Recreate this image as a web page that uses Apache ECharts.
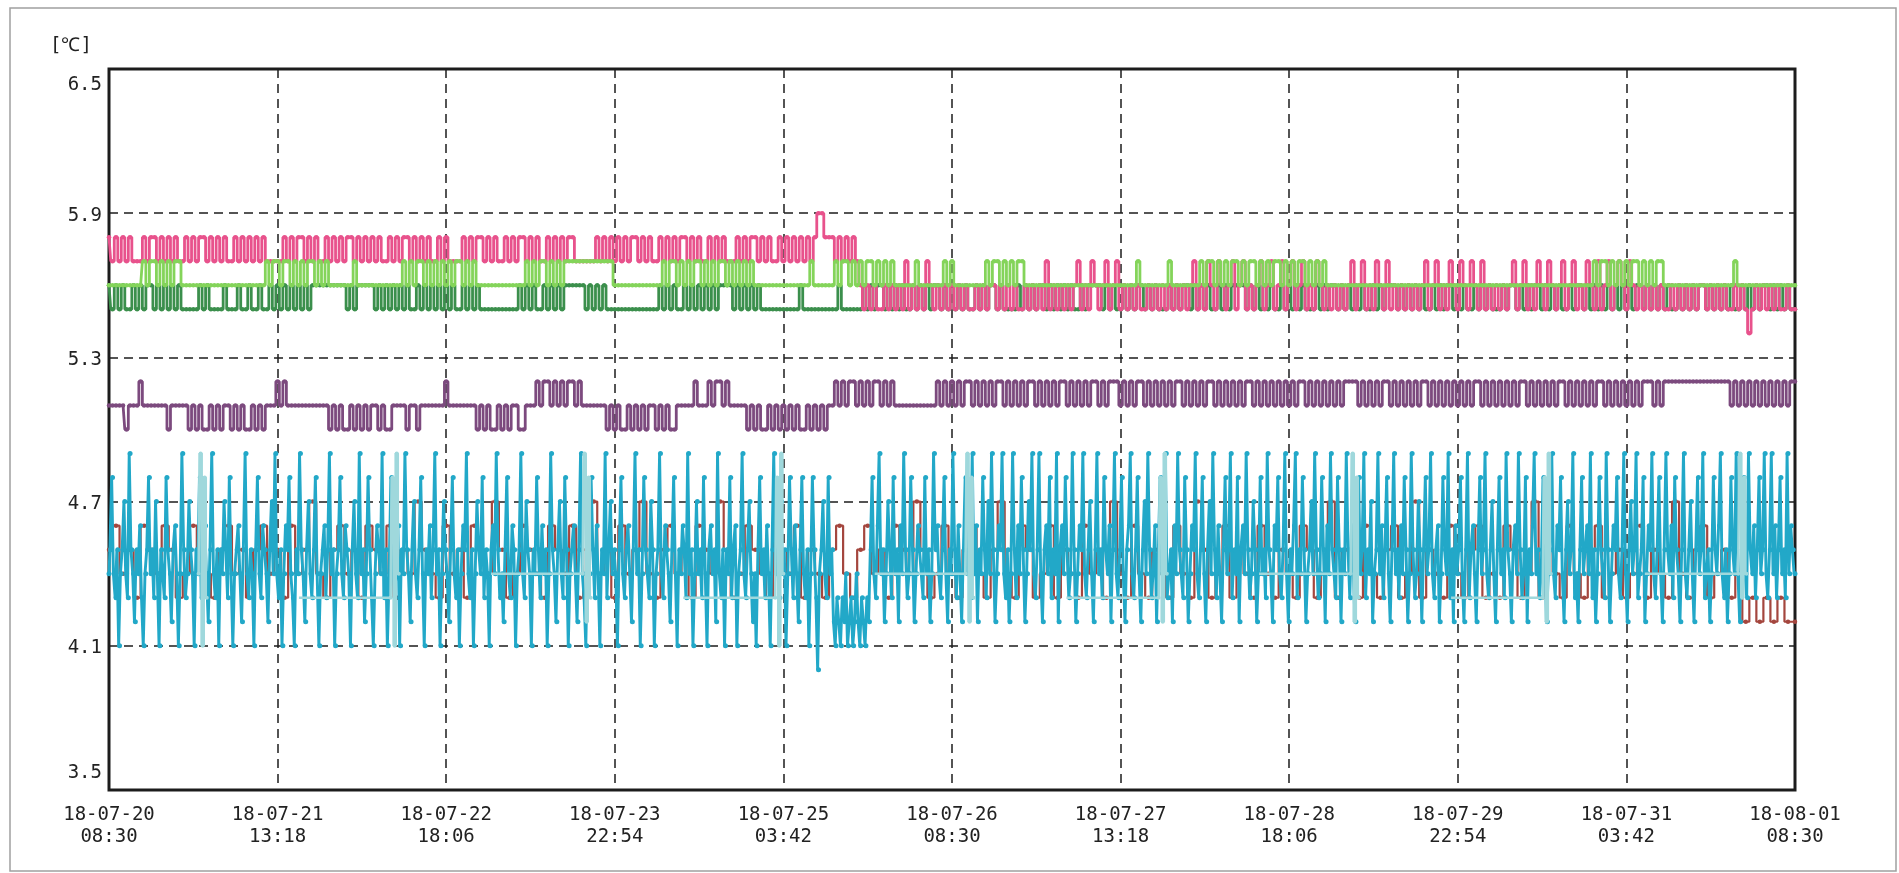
<!DOCTYPE html>
<html>
<head>
<meta charset="utf-8">
<script src="https://cdn.jsdelivr.net/npm/echarts@6/dist/echarts.min.js"></script>
<style>html,body{margin:0;padding:0;background:#fff;}#c{width:1899px;height:873px;}</style>
</head>
<body>
<div id="c"></div>
<script>
// time axis: hours from 18-07-20 08:30, one tick every 28.8 h
const xLabels = ['18-07-20\n08:30','18-07-21\n13:18','18-07-22\n18:06','18-07-23\n22:54','18-07-25\n03:42','18-07-26\n08:30','18-07-27\n13:18','18-07-28\n18:06','18-07-29\n22:54','18-07-31\n03:42','18-08-01\n08:30'];
const yLabels = ['3.5','4.1','4.7','5.3','5.9','6.5'];
const STEP_CYAN = 0.3; // hours between samples (cyan sensor)
const STEP_FINE = 0.6; // hours between samples (upper sensors)
const STEP = 1.2;      // hours between samples (brown sensor)

const pink = [
5.8,5.7,5.8,5.7,5.8,5.7,5.8,5.7, 5.7,5.7,5.8,5.7,5.8,5.8,5.7,5.8, 5.7,5.8,5.7,5.8,5.7,5.7,5.8,5.7, 5.8,5.7,5.8,5.8,5.7,5.8,5.7,5.8, 5.7,5.8,5.7,5.7,5.8,5.7,5.8,5.7, 5.8,5.7,5.8,5.7,5.8,5.7,5.7,5.7,
5.7,5.7,5.8,5.7,5.8,5.7,5.8,5.8, 5.7,5.8,5.7,5.8,5.7,5.7,5.8,5.7, 5.8,5.7,5.8,5.7,5.8,5.8,5.7,5.8, 5.7,5.8,5.7,5.8,5.7,5.8,5.7,5.7, 5.8,5.7,5.8,5.7,5.8,5.8,5.7,5.8, 5.7,5.8,5.7,5.8,5.7,5.7,5.8,5.7,
5.8,5.7,5.7,5.7,5.7,5.8,5.7,5.8, 5.7,5.8,5.8,5.7,5.8,5.7,5.8,5.7, 5.7,5.8,5.7,5.8,5.7,5.8,5.8,5.7, 5.8,5.7,5.8,5.7,5.7,5.8,5.7,5.8, 5.7,5.8,5.7,5.8,5.8,5.7,5.7,5.7, 5.7,5.7,5.7,5.8,5.7,5.8,5.7,5.8,
5.7,5.8,5.7,5.8,5.7,5.8,5.8,5.7, 5.8,5.7,5.8,5.7,5.7,5.8,5.7,5.8, 5.7,5.8,5.7,5.8,5.8,5.7,5.8,5.7, 5.8,5.7,5.7,5.8,5.7,5.8,5.7,5.8, 5.7,5.7,5.7,5.8,5.7,5.8,5.7,5.8, 5.8,5.7,5.8,5.7,5.8,5.7,5.7,5.8,
5.7,5.8,5.7,5.8,5.7,5.8,5.7,5.8, 5.7,5.8,5.9,5.9,5.8,5.8,5.8,5.7, 5.8,5.7,5.8,5.7,5.8,5.7,5.6,5.5, 5.6,5.5,5.6,5.5,5.5,5.6,5.5,5.6, 5.5,5.6,5.5,5.7,5.5,5.6,5.5,5.6, 5.5,5.7,5.6,5.5,5.6,5.5,5.6,5.5,
5.6,5.5,5.6,5.5,5.6,5.5,5.5,5.6, 5.5,5.6,5.5,5.6,5.6,5.5,5.6,5.5, 5.6,5.5,5.6,5.5,5.5,5.6,5.5,5.6, 5.5,5.6,5.5,5.7,5.5,5.6,5.5,5.6, 5.5,5.6,5.5,5.6,5.7,5.5,5.6,5.5, 5.7,5.6,5.5,5.6,5.7,5.5,5.6,5.7,
5.5,5.6,5.5,5.6,5.5,5.6,5.5,5.5, 5.6,5.5,5.6,5.5,5.6,5.5,5.6,5.5, 5.6,5.5,5.6,5.5,5.6,5.7,5.5,5.6, 5.5,5.7,5.6,5.5,5.7,5.6,5.5,5.6, 5.7,5.5,5.6,5.7,5.5,5.6,5.5,5.6, 5.7,5.5,5.6,5.7,5.5,5.6,5.7,5.5,
5.6,5.7,5.5,5.6,5.7,5.5,5.6,5.5, 5.7,5.6,5.5,5.6,5.5,5.6,5.5,5.6, 5.5,5.6,5.7,5.5,5.6,5.7,5.5,5.6, 5.5,5.7,5.6,5.5,5.7,5.5,5.6,5.5, 5.6,5.5,5.6,5.5,5.6,5.5,5.6,5.7, 5.5,5.6,5.7,5.5,5.6,5.5,5.7,5.6,
5.5,5.7,5.6,5.5,5.7,5.6,5.5,5.7, 5.5,5.6,5.5,5.6,5.5,5.6,5.5,5.6, 5.7,5.5,5.6,5.7,5.5,5.6,5.5,5.7, 5.6,5.5,5.7,5.6,5.5,5.6,5.7,5.5, 5.6,5.7,5.5,5.6,5.5,5.7,5.6,5.5, 5.7,5.5,5.6,5.7,5.5,5.6,5.7,5.6,
5.5,5.7,5.6,5.5,5.6,5.5,5.6,5.5, 5.6,5.5,5.6,5.5,5.5,5.6,5.5,5.6, 5.5,5.6,5.5,5.6,5.5,5.6,5.6,5.5, 5.6,5.5,5.6,5.5,5.6,5.5,5.5,5.6, 5.5,5.6,5.5,5.4,5.5,5.6,5.5,5.6, 5.5,5.6,5.5,5.6,5.5,5.5,5.6,5.5,
5.5];

const lightGreen = [
5.6,5.6,5.6,5.6,5.6,5.6,5.6,5.6, 5.6,5.6,5.7,5.6,5.7,5.7,5.6,5.7, 5.6,5.7,5.6,5.7,5.7,5.6,5.6,5.6, 5.6,5.6,5.6,5.6,5.6,5.6,5.6,5.6, 5.6,5.6,5.6,5.6,5.6,5.6,5.6,5.6, 5.6,5.6,5.6,5.6,5.6,5.7,5.6,5.7,
5.7,5.6,5.7,5.7,5.6,5.7,5.6,5.7, 5.6,5.7,5.7,5.6,5.7,5.6,5.7,5.6, 5.6,5.6,5.6,5.6,5.6,5.6,5.7,5.6, 5.6,5.6,5.6,5.6,5.6,5.6,5.6,5.6, 5.6,5.6,5.6,5.6,5.7,5.6,5.7,5.6, 5.7,5.7,5.6,5.7,5.6,5.7,5.6,5.7,
5.6,5.7,5.6,5.7,5.7,5.6,5.7,5.6, 5.7,5.6,5.6,5.6,5.6,5.6,5.6,5.6, 5.6,5.6,5.6,5.6,5.6,5.6,5.6,5.7, 5.6,5.7,5.6,5.7,5.7,5.6,5.7,5.6, 5.7,5.6,5.7,5.7,5.7,5.7,5.7,5.7, 5.7,5.7,5.7,5.7,5.7,5.7,5.7,5.7,
5.6,5.6,5.6,5.6,5.6,5.6,5.6,5.6, 5.6,5.6,5.6,5.6,5.6,5.6,5.7,5.6, 5.7,5.7,5.6,5.7,5.6,5.7,5.6,5.7, 5.7,5.6,5.7,5.6,5.7,5.6,5.7,5.7, 5.6,5.7,5.6,5.7,5.6,5.7,5.6,5.7, 5.6,5.6,5.6,5.6,5.6,5.6,5.6,5.6,
5.6,5.6,5.6,5.6,5.6,5.6,5.6,5.6, 5.7,5.6,5.6,5.6,5.6,5.6,5.6,5.7, 5.6,5.7,5.7,5.6,5.7,5.6,5.7,5.6, 5.7,5.7,5.6,5.7,5.6,5.7,5.6,5.7, 5.6,5.6,5.6,5.6,5.6,5.6,5.7,5.6, 5.6,5.6,5.6,5.6,5.6,5.6,5.7,5.6,
5.7,5.6,5.6,5.6,5.6,5.6,5.6,5.6, 5.6,5.6,5.7,5.6,5.7,5.7,5.6,5.7, 5.6,5.7,5.6,5.7,5.7,5.6,5.6,5.6, 5.6,5.6,5.6,5.6,5.6,5.6,5.6,5.6, 5.6,5.6,5.6,5.6,5.6,5.6,5.6,5.6, 5.6,5.6,5.6,5.6,5.6,5.6,5.6,5.6,
5.6,5.6,5.6,5.6,5.6,5.7,5.6,5.6, 5.6,5.6,5.6,5.6,5.6,5.6,5.7,5.6, 5.6,5.6,5.6,5.6,5.6,5.6,5.6,5.7, 5.6,5.7,5.7,5.6,5.7,5.6,5.7,5.6, 5.7,5.7,5.6,5.7,5.6,5.7,5.7,5.6, 5.7,5.6,5.7,5.6,5.7,5.7,5.6,5.7,
5.6,5.7,5.6,5.7,5.7,5.6,5.7,5.6, 5.7,5.6,5.7,5.6,5.6,5.6,5.6,5.6, 5.6,5.6,5.6,5.6,5.6,5.6,5.6,5.6, 5.6,5.6,5.6,5.6,5.6,5.6,5.6,5.6, 5.6,5.6,5.6,5.6,5.6,5.6,5.6,5.6, 5.6,5.6,5.6,5.6,5.6,5.6,5.6,5.6,
5.6,5.6,5.6,5.6,5.6,5.6,5.6,5.6, 5.6,5.6,5.6,5.6,5.6,5.6,5.6,5.6, 5.6,5.6,5.6,5.6,5.6,5.6,5.6,5.6, 5.6,5.6,5.6,5.6,5.6,5.6,5.6,5.6, 5.6,5.6,5.6,5.6,5.6,5.6,5.6,5.7, 5.6,5.7,5.7,5.6,5.7,5.6,5.7,5.6,
5.7,5.6,5.7,5.7,5.6,5.7,5.6,5.7, 5.6,5.7,5.7,5.6,5.6,5.6,5.6,5.6, 5.6,5.6,5.6,5.6,5.6,5.6,5.6,5.6, 5.6,5.6,5.6,5.6,5.6,5.6,5.6,5.7, 5.6,5.6,5.6,5.6,5.6,5.6,5.6,5.6, 5.6,5.6,5.6,5.6,5.6,5.6,5.6,5.6,
5.6];

const darkGreen = [
5.6,5.5,5.6,5.5,5.6,5.5,5.5,5.6, 5.5,5.6,5.5,5.6,5.6,5.5,5.6,5.5, 5.6,5.5,5.6,5.5,5.6,5.5,5.5,5.5, 5.5,5.5,5.6,5.5,5.6,5.5,5.5,5.5, 5.5,5.6,5.5,5.5,5.5,5.6,5.5,5.5, 5.6,5.5,5.5,5.6,5.5,5.5,5.6,5.5,
5.6,5.5,5.6,5.5,5.6,5.5,5.6,5.5, 5.6,5.5,5.6,5.6,5.6,5.6,5.6,5.6, 5.6,5.6,5.6,5.6,5.5,5.6,5.5,5.6, 5.6,5.6,5.6,5.6,5.5,5.6,5.5,5.6, 5.5,5.6,5.5,5.6,5.5,5.6,5.5,5.5, 5.6,5.5,5.6,5.5,5.6,5.5,5.6,5.5,
5.6,5.5,5.6,5.5,5.5,5.6,5.5,5.6, 5.5,5.6,5.5,5.5,5.5,5.5,5.5,5.5, 5.5,5.5,5.5,5.5,5.5,5.6,5.5,5.6, 5.5,5.6,5.5,5.5,5.6,5.5,5.6,5.5, 5.6,5.5,5.6,5.6,5.6,5.6,5.6,5.6, 5.5,5.6,5.5,5.6,5.5,5.6,5.5,5.5,
5.5,5.5,5.5,5.5,5.5,5.5,5.5,5.5, 5.5,5.5,5.5,5.5,5.5,5.6,5.5,5.6, 5.5,5.6,5.5,5.5,5.6,5.5,5.6,5.5, 5.6,5.5,5.6,5.5,5.6,5.5,5.6,5.6, 5.6,5.6,5.5,5.6,5.5,5.6,5.5,5.6, 5.5,5.6,5.5,5.5,5.5,5.5,5.5,5.5,
5.5,5.5,5.5,5.5,5.5,5.6,5.5,5.5, 5.5,5.5,5.5,5.5,5.5,5.5,5.5,5.5, 5.6,5.5,5.5,5.5,5.5,5.5,5.5,5.6, 5.5,5.6,5.5,5.6,5.6,5.5,5.6,5.5, 5.6,5.5,5.6,5.5,5.5,5.6,5.5,5.6, 5.5,5.6,5.5,5.6,5.6,5.5,5.6,5.5,
5.6,5.5,5.6,5.5,5.6,5.5,5.5,5.6, 5.5,5.6,5.5,5.6,5.6,5.5,5.6,5.5, 5.5,5.5,5.5,5.6,5.5,5.6,5.5,5.6, 5.5,5.6,5.6,5.5,5.6,5.5,5.6,5.5, 5.6,5.5,5.6,5.5,5.5,5.6,5.5,5.6, 5.6,5.6,5.6,5.5,5.6,5.5,5.6,5.5,
5.5,5.6,5.5,5.6,5.5,5.6,5.6,5.5, 5.6,5.5,5.6,5.5,5.5,5.5,5.6,5.5, 5.6,5.5,5.6,5.6,5.5,5.6,5.5,5.6, 5.5,5.6,5.5,5.5,5.6,5.5,5.6,5.5, 5.6,5.6,5.6,5.6,5.5,5.6,5.5,5.6, 5.5,5.6,5.5,5.6,5.5,5.5,5.6,5.5,
5.6,5.5,5.6,5.5,5.6,5.5,5.5,5.5, 5.6,5.5,5.6,5.5,5.6,5.6,5.5,5.6, 5.5,5.6,5.5,5.6,5.5,5.6,5.5,5.5, 5.6,5.5,5.6,5.5,5.6,5.6,5.6,5.5, 5.6,5.5,5.6,5.5,5.6,5.5,5.6,5.5, 5.5,5.6,5.5,5.6,5.5,5.6,5.6,5.5,
5.6,5.5,5.6,5.5,5.5,5.6,5.5,5.6, 5.5,5.6,5.5,5.5,5.5,5.6,5.5,5.6, 5.6,5.5,5.6,5.5,5.6,5.5,5.6,5.6, 5.5,5.6,5.5,5.6,5.5,5.6,5.5,5.5, 5.6,5.5,5.6,5.6,5.5,5.6,5.5,5.6, 5.5,5.6,5.5,5.6,5.5,5.6,5.5,5.6,
5.5,5.6,5.5,5.6,5.6,5.5,5.6,5.5, 5.6,5.5,5.6,5.5,5.6,5.5,5.5,5.6, 5.5,5.6,5.5,5.6,5.5,5.6,5.6,5.5, 5.6,5.5,5.6,5.5,5.6,5.5,5.6,5.5, 5.5,5.6,5.5,5.6,5.5,5.6,5.5,5.6, 5.6,5.5,5.6,5.5,5.6,5.5,5.6,5.5,
5.5];

const purple = [
5.1,5.1,5.1,5.1,5.1,5.0,5.1,5.1, 5.1,5.2,5.1,5.1,5.1,5.1,5.1,5.1, 5.1,5.0,5.1,5.1,5.1,5.1,5.1,5.0, 5.1,5.0,5.1,5.0,5.0,5.1,5.0,5.1, 5.0,5.1,5.1,5.0,5.1,5.0,5.1,5.0, 5.0,5.1,5.0,5.1,5.0,5.1,5.1,5.1,
5.2,5.1,5.2,5.1,5.1,5.1,5.1,5.1, 5.1,5.1,5.1,5.1,5.1,5.1,5.1,5.0, 5.1,5.0,5.1,5.0,5.0,5.1,5.0,5.1, 5.0,5.1,5.0,5.1,5.1,5.0,5.1,5.0, 5.0,5.1,5.1,5.1,5.1,5.0,5.1,5.1, 5.0,5.1,5.1,5.1,5.1,5.1,5.1,5.1,
5.2,5.1,5.1,5.1,5.1,5.1,5.1,5.1, 5.1,5.0,5.1,5.0,5.1,5.0,5.0,5.1, 5.0,5.1,5.0,5.1,5.1,5.0,5.0,5.1, 5.1,5.1,5.2,5.1,5.2,5.2,5.1,5.2, 5.1,5.2,5.1,5.2,5.2,5.1,5.2,5.1, 5.1,5.1,5.1,5.1,5.1,5.1,5.0,5.1,
5.0,5.1,5.0,5.0,5.1,5.0,5.1,5.0, 5.1,5.0,5.1,5.1,5.0,5.1,5.0,5.1, 5.0,5.0,5.1,5.1,5.1,5.1,5.1,5.2, 5.1,5.1,5.1,5.2,5.1,5.2,5.2,5.1, 5.2,5.1,5.1,5.1,5.1,5.1,5.0,5.1, 5.0,5.1,5.0,5.0,5.1,5.0,5.1,5.0,
5.1,5.0,5.1,5.0,5.1,5.0,5.0,5.1, 5.0,5.1,5.0,5.1,5.0,5.1,5.1,5.2, 5.1,5.2,5.1,5.2,5.2,5.1,5.2,5.1, 5.2,5.1,5.2,5.2,5.1,5.2,5.1,5.2, 5.1,5.1,5.1,5.1,5.1,5.1,5.1,5.1, 5.1,5.1,5.1,5.1,5.2,5.1,5.2,5.1,
5.2,5.1,5.2,5.1,5.2,5.2,5.1,5.2, 5.1,5.2,5.1,5.2,5.1,5.2,5.2,5.1, 5.2,5.1,5.2,5.1,5.2,5.1,5.2,5.2, 5.1,5.2,5.1,5.2,5.1,5.2,5.1,5.2, 5.2,5.1,5.2,5.1,5.2,5.1,5.2,5.1, 5.2,5.2,5.1,5.2,5.1,5.2,5.2,5.2,
5.1,5.2,5.1,5.2,5.1,5.2,5.2,5.1, 5.2,5.1,5.2,5.1,5.2,5.1,5.2,5.1, 5.2,5.2,5.1,5.2,5.1,5.2,5.1,5.2, 5.1,5.2,5.2,5.1,5.2,5.1,5.2,5.1, 5.2,5.1,5.2,5.1,5.2,5.2,5.1,5.2, 5.1,5.2,5.1,5.2,5.1,5.2,5.1,5.2,
5.1,5.2,5.1,5.2,5.2,5.1,5.2,5.1, 5.2,5.1,5.2,5.1,5.2,5.1,5.2,5.1, 5.2,5.2,5.2,5.2,5.1,5.2,5.1,5.2, 5.1,5.2,5.1,5.2,5.2,5.1,5.2,5.1, 5.2,5.1,5.2,5.1,5.2,5.1,5.2,5.2, 5.1,5.2,5.1,5.2,5.1,5.2,5.1,5.2,
5.1,5.2,5.1,5.2,5.1,5.2,5.2,5.1, 5.2,5.1,5.2,5.1,5.2,5.1,5.2,5.1, 5.2,5.1,5.2,5.2,5.1,5.2,5.1,5.2, 5.1,5.2,5.1,5.2,5.1,5.2,5.2,5.1, 5.2,5.1,5.2,5.1,5.2,5.1,5.2,5.1, 5.2,5.2,5.1,5.2,5.1,5.2,5.1,5.2,
5.1,5.2,5.1,5.2,5.1,5.2,5.2,5.2, 5.1,5.2,5.1,5.2,5.2,5.2,5.2,5.2, 5.2,5.2,5.2,5.2,5.2,5.2,5.2,5.2, 5.2,5.2,5.2,5.2,5.2,5.2,5.1,5.2, 5.1,5.2,5.1,5.2,5.1,5.2,5.1,5.2, 5.1,5.2,5.1,5.2,5.1,5.2,5.1,5.2,
5.2];

const cyan = [
4.4,4.5,4.8,4.4,4.3,4.5,4.1,4.4, 4.5,4.7,4.4,4.3,4.9,4.5,4.4,4.2,
4.5,4.4,4.6,4.3,4.1,4.4,4.5,4.8, 4.4,4.5,4.3,4.7,4.4,4.1,4.5,4.4,
4.3,4.8,4.5,4.4,4.2,4.5,4.6,4.4, 4.1,4.4,4.9,4.5,4.3,4.4,4.7,4.5,
4.4,4.1,4.5,4.4,4.8,4.3,4.5,4.6, 4.4,4.2,4.5,4.9,4.4,4.3,4.5,4.1,
4.5,4.4,4.7,4.5,4.3,4.8,4.4,4.1, 4.4,4.5,4.6,4.4,4.2,4.5,4.9,4.4,
4.3,4.5,4.4,4.1,4.5,4.8,4.4,4.3, 4.6,4.5,4.4,4.2,4.5,4.7,4.4,4.9,
4.4,4.3,4.5,4.1,4.4,4.6,4.5,4.8, 4.4,4.3,4.1,4.5,4.4,4.9,4.5,4.4,
4.2,4.5,4.7,4.4,4.3,4.5,4.8,4.4, 4.1,4.4,4.5,4.6,4.3,4.5,4.9,4.4,
4.5,4.1,4.4,4.5,4.8,4.4,4.3,4.6, 4.5,4.4,4.1,4.5,4.7,4.4,4.3,4.9,
4.4,4.5,4.2,4.4,4.8,4.5,4.3,4.1, 4.4,4.6,4.5,4.4,4.9,4.3,4.5,4.1,
4.4,4.8,4.5,4.3,4.4,4.6,4.1,4.5, 4.4,4.9,4.5,4.4,4.2,4.5,4.7,4.4,
4.3,4.5,4.8,4.4,4.1,4.5,4.4,4.6, 4.3,4.5,4.9,4.4,4.5,4.1,4.4,4.7,
4.5,4.4,4.2,4.5,4.8,4.4,4.3,4.5, 4.1,4.4,4.6,4.5,4.9,4.4,4.3,4.5,
4.1,4.4,4.7,4.5,4.4,4.8,4.3,4.5, 4.4,4.1,4.5,4.6,4.4,4.9,4.5,4.3,
4.4,4.2,4.5,4.8,4.4,4.3,4.6,4.5, 4.1,4.4,4.5,4.9,4.4,4.3,4.7,4.5,
4.4,4.1,4.5,4.4,4.8,4.5,4.3,4.6, 4.4,4.5,4.1,4.4,4.9,4.5,4.4,4.2,
4.5,4.7,4.4,4.3,4.8,4.5,4.1,4.4, 4.5,4.6,4.4,4.2,4.5,4.9,4.4,4.3,
4.1,4.5,4.4,4.8,4.5,4.3,4.6,4.4, 4.1,4.5,4.4,4.9,4.3,4.5,4.7,4.4,
4.5,4.4,4.1,4.5,4.8,4.4,4.3,4.5, 4.6,4.4,4.2,4.5,4.9,4.4,4.5,4.1,
4.4,4.8,4.5,4.4,4.3,4.7,4.5,4.1, 4.4,4.5,4.9,4.4,4.3,4.6,4.5,4.4,
4.2,4.5,4.8,4.4,4.1,4.5,4.4,4.6, 4.5,4.3,4.9,4.4,4.5,4.1,4.4,4.7,
4.4,4.5,4.3,4.8,4.4,4.1,4.5,4.6, 4.4,4.5,4.2,4.9,4.4,4.3,4.5,4.1,
4.5,4.4,4.8,4.3,4.5,4.6,4.1,4.4, 4.5,4.9,4.4,4.3,4.5,4.7,4.4,4.2,
4.4,4.1,4.5,4.8,4.4,4.5,4.3,4.6, 4.4,4.1,4.5,4.9,4.4,4.5,4.3,4.7,
4.4,4.5,4.1,4.4,4.8,4.5,4.3,4.6, 4.4,4.2,4.5,4.8,4.4,4.3,4.5,4.1,
4.4,4.8,4.5,4.3,4.0,4.4,4.5,4.7, 4.4,4.3,4.8,4.4,4.5,4.2,4.1,4.3,
4.2,4.1,4.3,4.2,4.4,4.1,4.2,4.3, 4.1,4.2,4.4,4.2,4.1,4.3,4.2,4.1,
4.3,4.2,4.5,4.8,4.4,4.3,4.6,4.9, 4.4,4.5,4.2,4.4,4.7,4.5,4.3,4.8,
4.4,4.5,4.2,4.6,4.4,4.9,4.5,4.3, 4.4,4.8,4.5,4.2,4.4,4.6,4.5,4.4,
4.3,4.8,4.4,4.5,4.2,4.4,4.9,4.5, 4.6,4.4,4.3,4.5,4.8,4.4,4.2,4.5,
4.4,4.9,4.5,4.3,4.6,4.4,4.2,4.5, 4.8,4.4,4.5,4.3,4.9,4.4,4.6,4.2,
4.5,4.4,4.8,4.5,4.3,4.7,4.4,4.9, 4.5,4.2,4.4,4.6,4.5,4.9,4.4,4.3,
4.5,4.2,4.4,4.9,4.5,4.3,4.6,4.4, 4.8,4.5,4.2,4.4,4.7,4.5,4.9,4.4,
4.3,4.5,4.9,4.4,4.2,4.5,4.6,4.4, 4.8,4.3,4.5,4.4,4.9,4.2,4.5,4.6,
4.4,4.8,4.5,4.3,4.4,4.9,4.5,4.2, 4.4,4.6,4.5,4.9,4.4,4.3,4.5,4.7,
4.4,4.2,4.5,4.9,4.4,4.5,4.3,4.8, 4.5,4.4,4.6,4.2,4.5,4.9,4.4,4.3,
4.5,4.8,4.4,4.2,4.5,4.6,4.9,4.4, 4.3,4.5,4.8,4.4,4.2,4.5,4.7,4.4,
4.9,4.5,4.3,4.4,4.6,4.2,4.5,4.8, 4.4,4.5,4.9,4.3,4.4,4.5,4.2,4.6,
4.4,4.9,4.5,4.4,4.3,4.8,4.5,4.2, 4.4,4.6,4.5,4.9,4.4,4.3,4.5,4.8,
4.4,4.2,4.5,4.7,4.4,4.9,4.5,4.3, 4.6,4.4,4.2,4.5,4.8,4.4,4.5,4.9,
4.3,4.5,4.4,4.8,4.2,4.5,4.6,4.4, 4.9,4.5,4.3,4.4,4.7,4.5,4.2,4.4,
4.8,4.4,4.5,4.3,4.9,4.5,4.4,4.2, 4.6,4.5,4.8,4.4,4.3,4.5,4.9,4.4,
4.2,4.5,4.4,4.6,4.9,4.3,4.5,4.4, 4.8,4.5,4.2,4.4,4.5,4.7,4.4,4.9,
4.5,4.3,4.4,4.8,4.5,4.2,4.6,4.4, 4.9,4.5,4.4,4.3,4.8,4.5,4.2,4.5,
4.4,4.9,4.5,4.3,4.6,4.4,4.2,4.5, 4.8,4.4,4.5,4.9,4.3,4.5,4.4,4.7,
4.2,4.4,4.5,4.9,4.4,4.6,4.3,4.5, 4.8,4.4,4.2,4.5,4.9,4.4,4.5,4.3,
4.6,4.4,4.8,4.5,4.2,4.4,4.9,4.5, 4.3,4.4,4.7,4.5,4.2,4.5,4.8,4.4,
4.5,4.9,4.4,4.3,4.5,4.6,4.2,4.4, 4.8,4.5,4.4,4.9,4.3,4.5,4.2,4.6,
4.4,4.5,4.8,4.4,4.2,4.5,4.9,4.3, 4.5,4.6,4.4,4.2,4.5,4.8,4.4,4.5,
4.9,4.4,4.3,4.5,4.7,4.4,4.2,4.5, 4.8,4.4,4.5,4.3,4.9,4.5,4.4,4.2,
4.5,4.6,4.4,4.9,4.5,4.3,4.4,4.8, 4.2,4.5,4.4,4.6,4.9,4.4,4.5,4.3,
4.4,4.8,4.5,4.2,4.4,4.5,4.9,4.4, 4.3,4.6,4.5,4.8,4.4,4.2,4.5,4.7,
4.4,4.5,4.9,4.3,4.4,4.2,4.5,4.8, 4.4,4.5,4.6,4.4,4.9,4.3,4.5,4.2,
4.4,4.8,4.5,4.4,4.3,4.9,4.5,4.2, 4.4,4.6,4.5,4.8,4.4,4.3,4.5,4.9,
4.4,4.2,4.5,4.7,4.4,4.5,4.9,4.3, 4.4,4.5,4.8,4.2,4.4,4.6,4.5,4.9,
4.4,4.3,4.5,4.8,4.4,4.2,4.5,4.9, 4.5,4.4,4.6,4.3,4.8,4.5,4.4,4.2,
4.5,4.9,4.4,4.3,4.5,4.7,4.4,4.2, 4.5,4.8,4.4,4.5,4.9,4.3,4.4,4.5,
4.2,4.4,4.8,4.5,4.4,4.6,4.9,4.4, 4.3,4.5,4.2,4.4,4.8,4.5,4.4,4.9,
4.4,4.2,4.5,4.8,4.4,4.3,4.9,4.5, 4.4,4.6,4.3,4.5,4.8,4.4,4.5,4.9,
4.4,4.3,4.5,4.9,4.4,4.6,4.3,4.5, 4.8,4.4,4.5,4.3,4.9,4.4,4.6,4.5,
4.4];

const brown = [
4.5,4.6,4.4,4.5,4.3,4.6,4.5,4.4,4.6,4.5,4.3,4.4,4.6,4.5,4.4,4.3,4.5,4.6,4.4,4.5,4.3,4.5,4.6,4.4,
4.5,4.3,4.6,4.4,4.5,4.7,4.4,4.3,4.5,4.6,4.4,4.5,4.3,4.6,4.5,4.4,4.6,4.3,4.5,4.4,4.7,4.5,4.4,4.3,
4.6,4.4,4.5,4.3,4.6,4.5,4.4,4.7,4.5,4.3,4.4,4.6,4.5,4.4,4.3,4.6,4.5,4.4,4.6,4.3,4.5,4.7,4.4,4.5,
4.3,4.6,4.4,4.5,4.7,4.4,4.3,4.5,4.6,4.4,4.5,4.3,4.6,4.5,4.4,4.7,4.5,4.3,4.4,4.6,4.5,4.4,4.3,4.6,
4.5,4.4,4.6,4.3,4.5,4.4,4.3,4.5,4.6,4.4,4.3,4.5,4.6,4.4,4.5,4.3,4.6,4.5,4.4,4.7,4.5,4.3,4.4,4.6,
4.4,4.3,4.5,4.6,4.4,4.3,4.5,4.7,4.4,4.3,4.6,4.5,4.3,4.4,4.6,4.3,4.5,4.4,4.3,4.6,4.4,4.5,4.3,4.7,
4.4,4.3,4.6,4.4,4.3,4.5,4.4,4.3,4.6,4.4,4.3,4.7,4.5,4.3,4.4,4.6,4.3,4.5,4.4,4.3,4.6,4.4,4.3,4.5,
4.4,4.3,4.6,4.5,4.3,4.4,4.7,4.3,4.5,4.4,4.3,4.6,4.4,4.3,4.5,4.6,4.3,4.4,4.7,4.3,4.5,4.4,4.3,4.6,
4.4,4.3,4.5,4.6,4.3,4.4,4.3,4.6,4.5,4.3,4.4,4.7,4.3,4.5,4.4,4.3,4.6,4.4,4.3,4.5,4.6,4.3,4.4,4.5,
4.3,4.4,4.6,4.3,4.5,4.4,4.3,4.7,4.4,4.3,4.5,4.6,4.3,4.4,4.5,4.3,4.4,4.2,4.3,4.2,4.3,4.2,4.3,4.2,
4.2];

// pale cyan sensor, only visible in short stripes (hours, value; null = gap)
const paleT = [15.3,15.65,16.0,16.35,16.7,16.8, 48.1,48.45,48.8,49.15,49.5,49.6, 80.9,81.25,81.6,81.95,82.3,82.4, 113.8,114.15,114.5,114.85,115.2,115.3, 146.3,146.65,147.0,147.35,147.7,147.8, 179.3,179.65,180.0,180.35,180.7,180.8, 212.1,212.45,212.8,213.15,213.5,213.6, 244.9,245.25,245.6,245.95,246.3,246.4, 278.3,278.65,279.0,279.35,279.7];
const paleV = [4.4,4.9,4.1,4.8,4.3,null, 4.3,4.8,4.1,4.9,4.4,null, 4.4,4.9,4.2,4.8,4.3,null, 4.3,4.8,4.1,4.9,4.4,null, 4.4,4.9,4.2,4.8,4.3,null, 4.3,4.8,4.2,4.9,4.4,null, 4.4,4.9,4.2,4.8,4.3,null, 4.3,4.8,4.2,4.9,4.4,null, 4.4,4.9,4.3,4.8,4.4];

function pairs(vals, step) { return vals.map((v, i) => [Math.round(i * step * 100) / 100, v]); }

const FONT = 'DejaVu Sans Mono';
function line(name, color, data, width, size, z) {
  return {
    name: name, type: 'line', step: 'middle', data: data, z: z,
    yAxisIndex: 0, xAxisIndex: 0,
    symbol: 'circle', symbolSize: size, showSymbol: true, showAllSymbol: true,
    lineStyle: { width: width, color: color },
    itemStyle: { color: color },
    emphasis: { disabled: true }, connectNulls: false, clip: true
  };
}

const labelRich = {
  n: { fontFamily: FONT, fontSize: 19, color: '#222', padding: [5, 0, 0, 0] },
  t: { fontFamily: FONT, fontSize: 19, color: '#222', padding: [7, 0, 0, 0] },
  b: { fontFamily: FONT, fontSize: 19, color: '#222', padding: [0, 0, 7, 0] }
};

const chart = echarts.init(document.getElementById('c'), null, { renderer: 'canvas' });
chart.setOption({
  animation: false,
  backgroundColor: '#ffffff',
  grid: { left: 109, right: 104, top: 69, bottom: 83, show: true, borderColor: '#1c1c1c', borderWidth: 3, backgroundColor: 'transparent' },
  graphic: [
    { type: 'rect', shape: { x: 10, y: 8, width: 1886, height: 863 }, style: { fill: 'none', stroke: '#a0a0a0', lineWidth: 1.5 }, silent: true, z: -10 },
    { type: 'text', left: 50, top: 37, style: { text: '[℃]', font: '19px "' + FONT + '"', fill: '#222' }, silent: true }
  ],
  xAxis: [{
    type: 'value', min: 0, max: 288, interval: 28.8,
    axisLine: { show: false }, axisTick: { show: false },
    axisLabel: {
      margin: 14, color: '#222', fontFamily: FONT, fontSize: 19, lineHeight: 22,
      formatter: v => xLabels[Math.round(v / 28.8)] || ''
    },
    splitLine: { show: true, lineStyle: { color: '#1c1c1c', width: 1.5, type: [9, 6] } }
  }],
  yAxis: [
    { type: 'value', min: 3.5, max: 6.5, show: false, splitLine: { show: false } },
    {
      type: 'value', min: 0, max: 3, interval: 0.6, position: 'left',
      axisLine: { show: false }, axisTick: { show: false },
      axisLabel: {
        margin: 7, color: '#222', fontFamily: FONT, fontSize: 19,
        verticalAlignMaxLabel: 'top', verticalAlignMinLabel: 'bottom',
        rich: labelRich,
        formatter: v => {
          const k = Math.round(v / 0.6);
          const s = yLabels[k] || '';
          if (k === 0) return '{b|' + s + '}';
          if (k === yLabels.length - 1) return '{t|' + s + '}';
          return '{n|' + s + '}';
        }
      },
      splitLine: { show: true, lineStyle: { color: '#1c1c1c', width: 1.5, type: [9, 6] } }
    }
  ],
  series: [
    line('brown', '#a4463e', pairs(brown, STEP), 2.2, 4.5, 2),
    line('cyan', '#22a8c8', pairs(cyan, STEP_CYAN), 2.9, 5, 3),
    line('paleCyan', '#9fd8dc', paleT.map((t, k) => [t, paleV[k]]), 2.6, 4, 4),
    line('purple', '#7c4a7e', pairs(purple, STEP_FINE), 2.8, 4.5, 5),
    line('darkGreen', '#3b8f4c', pairs(darkGreen, STEP_FINE), 2.8, 4.5, 6),
    line('pink', '#e8528c', pairs(pink, STEP_FINE), 2.8, 4.5, 7),
    line('lightGreen', '#84d45a', pairs(lightGreen, STEP_FINE), 2.8, 4.5, 8)
  ]
});
</script>
</body>
</html>
